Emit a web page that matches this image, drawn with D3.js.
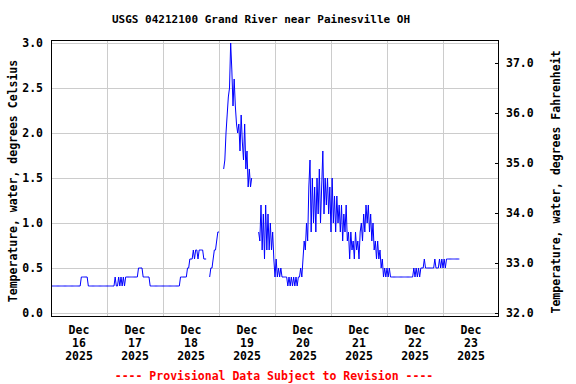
<!DOCTYPE html>
<html><head><meta charset="utf-8">
<script src="https://cdn.jsdelivr.net/npm/d3@7"></script>
<style>
body{margin:0;background:#fff}
svg{display:block}
text{font-family:"DejaVu Sans Mono",monospace;font-weight:bold;fill:#000}
</style>
</head><body><svg id="c" width="576" height="384"></svg>
<script>
const title = "USGS 04212100 Grand River near Painesville OH";
const yLeftLabel = "Temperature, water, degrees Celsius";
const yRightLabel = "Temperature, water, degrees Fahrenheit";
const footer = "---- Provisional Data Subject to Revision ----";
const dayLabels = ["16","17","18","19","20","21","22","23"];
const monthLabel = "Dec";
const yearLabel = "2025";
const celsiusTicks = [0.0,0.5,1.0,1.5,2.0,2.5,3.0];
const fahrenheitTicks = [32,33,34,35,36,37];
const stepHours = 0.5; // spacing of readings within a segment
// values in tenths of a degree Celsius; start = hours after Dec 16 00:00
const seg1Start = 0;
const seg1Values = [3,3,3,3,3,3,3,3,3,3,3,3,3,3,3,3,3,3,3,3,3,3,3,3,3,3,
  4,4,4,4,4,4,
  3,3,3,3,3,3,3,3,3,3,3,3,3,3,3,3,3,3,3,3,3,3,3,
  4,3,3,4,3,4,3,4,3,
  4,4,4,4,4,4,4,4,4,4,4,
  5,5,5,5,
  4,4,4,4,4,4,
  3,3,3,3,3,3,3,3,3,3,3,3,3,3,3,3,3,3,3,3,3,3,3,3,3,3,
  4,4,4,4,4,4,
  5,5,6,6,6,
  7,6,7,7,6,7,7,7,7,6,6,6];
const seg2Start = 68;
const seg2Values = [4,5,5,6,7,7,8,9,9];
const seg3Start = 74;
const seg3Values = [16,17,20,22,24,25,30,27,23,26,23,21,20,21,18,22,19,17,21,16,18,14,16,14,15];
const seg4Start = 89;
const seg4Values = [
  9,8,12,7,11,6,12,7,11,7,
  10,7,9,6,4,6,4,5,4,5,
  4,4,4,4,4,3,4,3,4,3,
  4,3,4,3,4,4,5,4,6,8,
  7,10,8,14,17,9,15,10,14,9,
  15,11,16,10,14,18,11,15,12,15,
  11,14,9,15,10,13,9,13,10,12,
  9,12,8,11,9,12,8,9,6,9,
  7,8,6,9,7,8,6,9,10,8,
  11,9,12,10,12,9,11,8,10,7,
  8,6,8,6,7,5,6,4,5,4,
  5,4,5,4,4,4,4,4,4,4,
  4,4,4,4,4,4,4,4,4,4,
  4,4,4,5,4,5,4,5,4,5,
  5,5,6,5,5,5,5,5,5,5,
  5,6,5,5,5,6,5,6,5,6,
  5,6,6,6,6,6,6,6,6,6,
  6,6,6];

const segments = [[seg1Start,seg1Values],[seg2Start,seg2Values],[seg3Start,seg3Values],[seg4Start,seg4Values]];
const t0 = Date.UTC(2025,11,16);
const HOUR = 3600000;

const svg = d3.select("#c");
const L = 51, R = 499, T = 40, B = 316;
const x = d3.scaleUtc().domain([new Date(t0), new Date(t0 + 8*24*HOUR)]).range([L, R]);
const cMin = -0.0333, cMax = 3.0333;
const y = d3.scaleLinear().domain([cMin, cMax]).range([B, T]);
const yF = d3.scaleLinear().domain([cMin*1.8+32, cMax*1.8+32]).range([B, T]);

// grid
const g = svg.append("g");
g.selectAll("line.h").data(celsiusTicks).enter().append("line")
  .attr("x1", L).attr("x2", R)
  .attr("y1", d => Math.round(y(d))+0.5).attr("y2", d => Math.round(y(d))+0.5)
  .attr("stroke", "#cccccc").attr("stroke-width", 1);
const days = d3.range(1, 8).map(i => new Date(t0 + i*24*HOUR));
g.selectAll("line.v").data(days).enter().append("line")
  .attr("x1", d => Math.round(x(d))+0.5).attr("x2", d => Math.round(x(d))+0.5)
  .attr("y1", T).attr("y2", B)
  .attr("stroke", "#cccccc").attr("stroke-width", 1);

// data
const line = d3.line().x(d => x(d[0])).y(d => y(d[1]));
segments.forEach(([start, vals]) => {
  const pts = vals.map((v, i) => [new Date(t0 + (start + i*stepHours)*HOUR), v/10]);
  svg.append("path").datum(pts).attr("d", line)
    .attr("fill", "none").attr("stroke", "#0000ff").attr("stroke-width", 1);
});

// frame
svg.append("rect").attr("x", L+0.5).attr("y", T+0.5).attr("width", R-L-1).attr("height", B-T)
  .attr("fill", "none").attr("stroke", "#000").attr("stroke-width", 1);

// left axis
const ax = svg.append("g").attr("transform", `translate(${L},0)`)
  .call(d3.axisLeft(y).tickValues(celsiusTicks).tickFormat(d3.format(".1f")).tickSize(0).tickPadding(8));
ax.select(".domain").remove();
ax.selectAll("text").style("font-size", "11.5px").style("font-family", '"DejaVu Sans Mono",monospace').style("font-weight", "bold");

// right axis
const ar = svg.append("g").attr("transform", `translate(${R},0)`)
  .call(d3.axisRight(yF).tickValues(fahrenheitTicks).tickFormat(d3.format(".1f")).tickSize(-4).tickPadding(7));
ar.select(".domain").remove();
ar.selectAll("line").attr("stroke", "#000");
ar.selectAll("text").style("font-size", "11.5px").style("font-family", '"DejaVu Sans Mono",monospace').style("font-weight", "bold");

// bottom labels
const bl = svg.append("g");
dayLabels.forEach((d, i) => {
  const cx = x(new Date(t0 + (i*24 + 12)*HOUR));
  const t = bl.append("text").attr("text-anchor", "middle").style("font-size", "11.5px");
  t.append("tspan").attr("x", cx).attr("y", 334).text(monthLabel);
  t.append("tspan").attr("x", cx).attr("y", 347).text(d);
  t.append("tspan").attr("x", cx).attr("y", 360).text(yearLabel);
});

// titles
svg.append("text").attr("x", 261).attr("y", 23).attr("text-anchor", "middle")
  .style("font-size", "11px").text(title);
svg.append("text").attr("transform", "translate(17,181) rotate(-90)").attr("text-anchor", "middle")
  .style("font-size", "11.5px").text(yLeftLabel);
svg.append("text").attr("transform", "translate(560,182) rotate(-90)").attr("text-anchor", "middle")
  .style("font-size", "11.5px").text(yRightLabel);
svg.append("text").attr("x", 274).attr("y", 380).attr("text-anchor", "middle")
  .style("font-size", "11.5px").style("fill", "#ff0000").text(footer);
</script>
</body></html>
